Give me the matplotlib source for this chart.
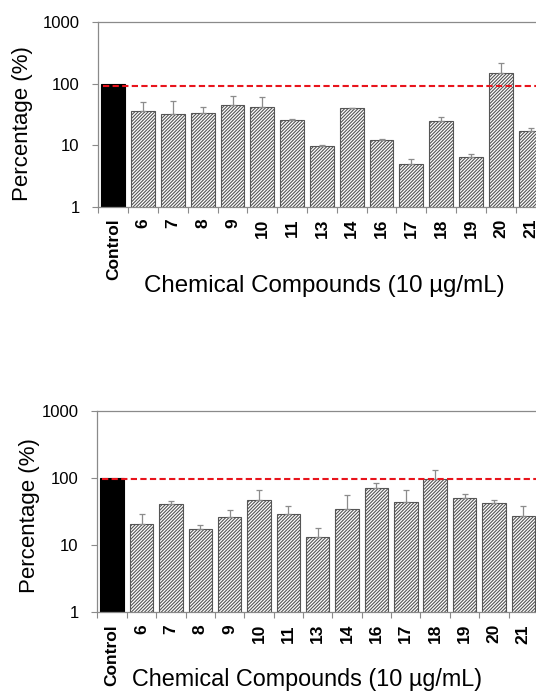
import matplotlib
matplotlib.use("Agg")
import matplotlib.pyplot as plt
import numpy as np
from matplotlib.ticker import FixedLocator, FixedFormatter, NullLocator

# data (percent of control, log axis)
compounds = ["Control", "6", "7", "8", "9", "10", "11", "13", "14",
             "16", "17", "18", "19", "20", "21"]

top_values = [100, 36.7, 32.8, 33.7, 44.9, 41.6, 25.9, 9.6, 40.1,
              12.1, 4.96, 24.6, 6.37, 153, 16.9]
top_err = [0, 13.5, 19.4, 9.0, 18.8, 19.0, 1.3, 0.5, 0.4,
           0.7, 1.1, 4.7, 0.94, 64, 2.3]
top_ref = 94

bottom_values = [100, 21.1, 41.9, 17.5, 26.2, 46.9, 29.0, 13.2, 35.3,
                 71.7, 43.8, 96.7, 50.9, 42.8, 27.4]
bottom_err = [0, 7.9, 3.5, 2.4, 7.5, 19.3, 9.6, 5.2, 20.4,
              12.5, 22.4, 36, 7.5, 4.7, 10.8]
bottom_ref = 97

y_ticks = [1, 10, 100, 1000]
xlabel = "Chemical Compounds (10 µg/mL)"
ylabel = "Percentage (%)"

plt.rcParams['font.family'] = ['Liberation Sans', 'DejaVu Sans']
plt.rcParams['hatch.linewidth'] = 0.8

fig = plt.figure(figsize=(5.36, 6.92), dpi=100)

# axes rectangles and label spots (the figure is cropped on the right)
layout = [
    dict(values=top_values, err=top_err, ref=top_ref,
         rect=[0.1836, 0.7013, 0.8451, 0.2662],
         ylab=(-0.144, 0.449), xlab=(0.498, -0.37), xfs=17.4, yfs=16),
    dict(values=bottom_values, err=bottom_err, ref=bottom_ref,
         rect=[0.1819, 0.1152, 0.8327, 0.2905],
         ylab=(-0.129, 0.479), xlab=(0.4705, -0.278), xfs=16.8, yfs=16),
]

spine_col = '#8a8a8a'

for p in layout:
    ax = fig.add_axes(p["rect"])
    x = np.arange(len(compounds))
    vals = np.array(p["values"], dtype=float)
    err = np.array(p["err"], dtype=float)

    # control bar solid black, the rest hatched
    ax.bar(x[:1], vals[:1], width=0.8, color='black', edgecolor='black',
           linewidth=0.8, zorder=2)
    ax.bar(x[1:], vals[1:], width=0.8, color='white', edgecolor='#555555',
           linewidth=0.8, hatch='/' * 10, zorder=2)

    # upper error bars only
    ax.errorbar(x[1:], vals[1:], yerr=[np.zeros(len(x) - 1), err[1:]],
                fmt='none', ecolor='#8c8c8c', elinewidth=0.9, capsize=2,
                capthick=0.9, zorder=3)

    ax.hlines(p["ref"], -0.35, 14.7, colors='#e8141c', linewidth=1.5,
              linestyles=(0, (3, 1.6)), zorder=4)

    ax.set_yscale('log')
    ax.set_ylim(1, 1000)
    ax.set_xlim(-0.5, 14.7)

    ax.yaxis.set_major_locator(FixedLocator(y_ticks))
    ax.yaxis.set_major_formatter(FixedFormatter([str(t) for t in y_ticks]))
    ax.yaxis.set_minor_locator(NullLocator())
    ax.tick_params(axis='y', which='major', direction='out', length=4.5,
                   width=0.8, color=spine_col, labelsize=12, pad=9)

    ax.set_xticks(x)
    ax.set_xticklabels(compounds, rotation=90, fontweight='bold',
                       fontsize=12.5)
    ax.set_xticks(np.arange(-0.5, 14.6, 1.0), minor=True)
    ax.tick_params(axis='x', which='major', length=0, pad=8.5)
    ax.tick_params(axis='x', which='minor', direction='out', length=4,
                   width=0.8, color=spine_col)

    for s in ax.spines.values():
        s.set_color(spine_col)
        s.set_linewidth(0.9)

    ax.set_ylabel(ylabel, fontsize=p["yfs"])
    ax.yaxis.set_label_coords(*p["ylab"])
    ax.set_xlabel(xlabel, fontsize=p["xfs"])
    ax.xaxis.set_label_coords(*p["xlab"])

fig.savefig("out.png", dpi=100)
